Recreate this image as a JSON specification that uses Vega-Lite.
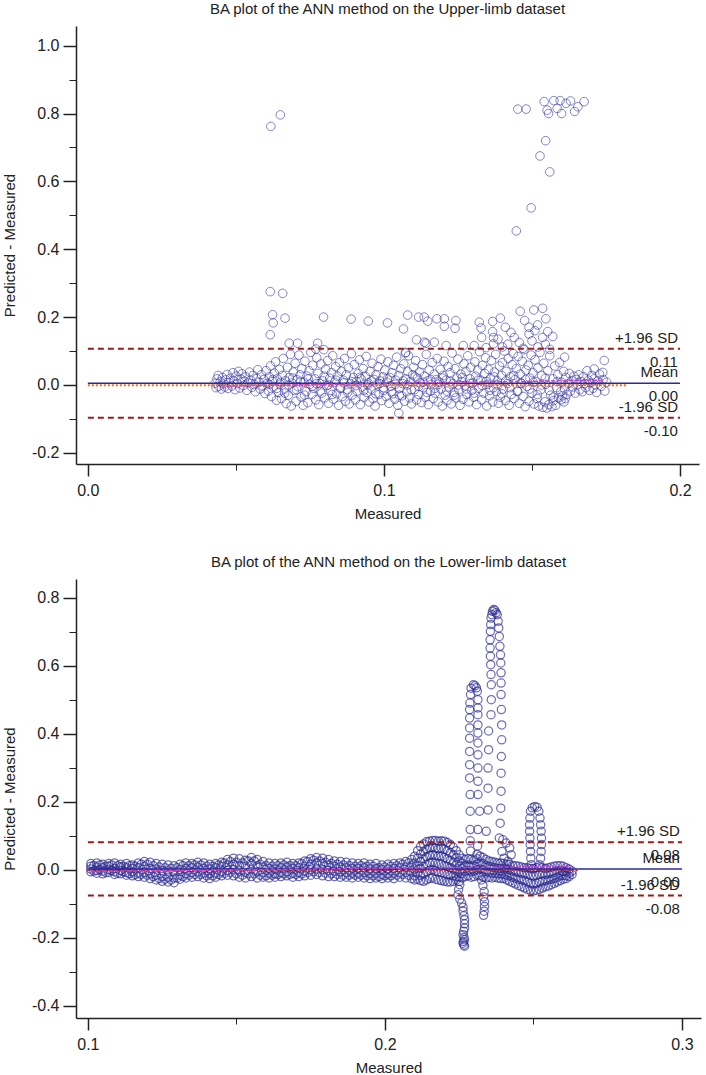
{
  "$schema": "https://vega.github.io/schema/vega-lite/v6.json",
  "description": "Bland-Altman plots of the ANN method, upper-limb and lower-limb datasets.",
  "background": "#ffffff",
  "padding": {"left": 2, "top": 2, "right": 3, "bottom": 0},
  "spacing": 34,
  "config": {
    "font": "Liberation Sans",
    "view": {"stroke": null},
    "title": {"fontSize": 15, "fontWeight": "normal", "color": "#222222", "offset": 9, "anchor": "middle"},
    "axis": {
      "grid": false,
      "domainColor": "#222222",
      "domainWidth": 1.5,
      "tickColor": "#222222",
      "tickWidth": 1.5,
      "labelFontSize": 16,
      "labelColor": "#222222",
      "labelFont": "Liberation Sans",
      "titleFont": "Liberation Sans",
      "titleFontSize": 15,
      "titleFontWeight": "normal",
      "titleColor": "#222222"
    }
  },
  "datasets": {
    "upper": [
      {"m":0.0430,"d":0.005},{"m":0.0433,"d":-0.008},{"m":0.0436,"d":0.018},{"m":0.0440,"d":0.028},{"m":0.0442,"d":-0.004},{"m":0.0447,"d":0.010},{"m":0.0451,"d":-0.012},{"m":0.0455,"d":0.022},{"m":0.0458,"d":0.003},{"m":0.0462,"d":-0.006},{"m":0.0466,"d":0.015},{"m":0.0470,"d":0.031},{"m":0.0473,"d":-0.010},{"m":0.0478,"d":0.006},{"m":0.0482,"d":0.020},{"m":0.0486,"d":-0.003},{"m":0.0490,"d":0.036},{"m":0.0494,"d":0.012},{"m":0.0497,"d":-0.014},{"m":0.0501,"d":0.026},
      {"m":0.0505,"d":0.004},{"m":0.0509,"d":0.040},{"m":0.0513,"d":-0.009},{"m":0.0517,"d":0.017},{"m":0.0521,"d":0.033},{"m":0.0525,"d":-0.002},{"m":0.0529,"d":0.011},{"m":0.0533,"d":0.024},{"m":0.0537,"d":-0.016},{"m":0.0541,"d":0.006},{"m":0.0546,"d":0.038},{"m":0.0550,"d":0.014},{"m":0.0554,"d":-0.007},{"m":0.0558,"d":0.028},{"m":0.0562,"d":0.001},{"m":0.0566,"d":-0.020},{"m":0.0570,"d":0.019},{"m":0.0574,"d":0.045},{"m":0.0578,"d":0.008},{"m":0.0582,"d":-0.012},{"m":0.0586,"d":0.030},{"m":0.0590,"d":-0.003},{"m":0.0594,"d":0.016},{"m":0.0598,"d":-0.025},
      {"m":0.0602,"d":0.042},{"m":0.0606,"d":0.005},{"m":0.0610,"d":-0.018},{"m":0.0613,"d":0.024},{"m":0.0617,"d":0.056},{"m":0.0620,"d":-0.034},{"m":0.0623,"d":0.010},{"m":0.0627,"d":-0.006},{"m":0.0630,"d":0.035},{"m":0.0634,"d":0.068},{"m":0.0637,"d":-0.045},{"m":0.0640,"d":0.018},{"m":0.0644,"d":-0.022},{"m":0.0647,"d":0.046},{"m":0.0650,"d":0.002},{"m":0.0654,"d":-0.040},{"m":0.0657,"d":0.028},{"m":0.0660,"d":0.078},{"m":0.0664,"d":-0.012},{"m":0.0667,"d":0.012},{"m":0.0670,"d":-0.055},{"m":0.0674,"d":0.052},{"m":0.0677,"d":-0.030},{"m":0.0680,"d":0.022},{"m":0.0684,"d":0.090},{"m":0.0687,"d":-0.062},{"m":0.0690,"d":0.006},{"m":0.0694,"d":0.038},{"m":0.0697,"d":-0.016},
      {"m":0.0700,"d":0.064},{"m":0.0703,"d":-0.048},{"m":0.0707,"d":0.015},{"m":0.0710,"d":-0.005},{"m":0.0713,"d":0.088},{"m":0.0717,"d":0.030},{"m":0.0720,"d":-0.035},{"m":0.0723,"d":0.048},{"m":0.0727,"d":-0.060},{"m":0.0730,"d":0.008},{"m":0.0733,"d":0.070},{"m":0.0737,"d":-0.020},{"m":0.0740,"d":0.026},{"m":0.0743,"d":-0.052},{"m":0.0747,"d":0.042},{"m":0.0750,"d":0.002},{"m":0.0753,"d":0.096},{"m":0.0757,"d":-0.028},{"m":0.0760,"d":0.058},{"m":0.0763,"d":-0.010},{"m":0.0767,"d":0.018},{"m":0.0770,"d":-0.044},{"m":0.0773,"d":0.080},{"m":0.0777,"d":0.034},{"m":0.0780,"d":-0.058},{"m":0.0783,"d":0.004},{"m":0.0787,"d":0.062},{"m":0.0790,"d":-0.024},{"m":0.0793,"d":0.012},{"m":0.0797,"d":0.104},
      {"m":0.0800,"d":-0.038},{"m":0.0803,"d":0.046},{"m":0.0807,"d":-0.002},{"m":0.0810,"d":0.072},{"m":0.0813,"d":-0.054},{"m":0.0817,"d":0.020},{"m":0.0820,"d":-0.016},{"m":0.0823,"d":0.036},{"m":0.0827,"d":0.086},{"m":0.0830,"d":-0.042},{"m":0.0833,"d":0.008},{"m":0.0837,"d":0.054},{"m":0.0840,"d":-0.026},{"m":0.0843,"d":0.026},{"m":0.0847,"d":-0.060},{"m":0.0850,"d":0.066},{"m":0.0853,"d":-0.008},{"m":0.0857,"d":0.040},{"m":0.0860,"d":-0.034},{"m":0.0863,"d":0.014},{"m":0.0867,"d":0.078},{"m":0.0870,"d":-0.048},{"m":0.0873,"d":0.030},{"m":0.0877,"d":-0.014},{"m":0.0880,"d":0.050},{"m":0.0883,"d":-0.056},{"m":0.0887,"d":0.004},{"m":0.0890,"d":0.092},{"m":0.0893,"d":-0.030},{"m":0.0897,"d":0.022},
      {"m":0.0900,"d":0.060},{"m":0.0903,"d":-0.044},{"m":0.0907,"d":0.010},{"m":0.0910,"d":-0.018},{"m":0.0913,"d":0.034},{"m":0.0917,"d":0.074},{"m":0.0920,"d":-0.058},{"m":0.0923,"d":0.018},{"m":0.0927,"d":-0.006},{"m":0.0930,"d":0.048},{"m":0.0933,"d":-0.036},{"m":0.0937,"d":0.026},{"m":0.0940,"d":0.084},{"m":0.0943,"d":-0.022},{"m":0.0947,"d":0.006},{"m":0.0950,"d":-0.050},{"m":0.0953,"d":0.040},{"m":0.0957,"d":-0.012},{"m":0.0960,"d":0.064},{"m":0.0963,"d":-0.040},{"m":0.0967,"d":0.016},{"m":0.0970,"d":-0.062},{"m":0.0973,"d":0.030},{"m":0.0977,"d":0.002},{"m":0.0980,"d":0.054},{"m":0.0983,"d":-0.028},{"m":0.0987,"d":0.012},{"m":0.0990,"d":0.076},{"m":0.0993,"d":-0.046},{"m":0.0997,"d":0.024},
      {"m":0.1000,"d":-0.016},{"m":0.1003,"d":0.044},{"m":0.1007,"d":-0.034},{"m":0.1010,"d":0.008},{"m":0.1013,"d":0.068},{"m":0.1017,"d":-0.054},{"m":0.1020,"d":0.022},{"m":0.1023,"d":-0.004},{"m":0.1027,"d":0.036},{"m":0.1030,"d":-0.026},{"m":0.1033,"d":0.058},{"m":0.1037,"d":-0.042},{"m":0.1040,"d":0.014},{"m":0.1043,"d":0.082},{"m":0.1047,"d":-0.060},{"m":0.1050,"d":0.028},{"m":0.1053,"d":-0.010},{"m":0.1057,"d":0.048},{"m":0.1060,"d":-0.032},{"m":0.1063,"d":0.004},{"m":0.1067,"d":0.062},{"m":0.1070,"d":-0.048},{"m":0.1073,"d":0.018},{"m":0.1077,"d":-0.020},{"m":0.1080,"d":0.040},{"m":0.1083,"d":0.086},{"m":0.1087,"d":-0.038},{"m":0.1090,"d":0.010},{"m":0.1093,"d":-0.056},{"m":0.1097,"d":0.030},
      {"m":0.1100,"d":0.052},{"m":0.1103,"d":-0.014},{"m":0.1107,"d":0.072},{"m":0.1110,"d":-0.044},{"m":0.1113,"d":0.020},{"m":0.1117,"d":-0.028},{"m":0.1120,"d":0.038},{"m":0.1123,"d":0.006},{"m":0.1127,"d":-0.052},{"m":0.1130,"d":0.060},{"m":0.1133,"d":-0.008},{"m":0.1137,"d":0.026},{"m":0.1140,"d":-0.036},{"m":0.1143,"d":0.090},{"m":0.1147,"d":0.012},{"m":0.1150,"d":-0.058},{"m":0.1153,"d":0.044},{"m":0.1157,"d":-0.018},{"m":0.1160,"d":0.002},{"m":0.1163,"d":0.066},{"m":0.1167,"d":-0.040},{"m":0.1170,"d":0.032},{"m":0.1173,"d":-0.024},{"m":0.1177,"d":0.016},{"m":0.1180,"d":0.078},{"m":0.1183,"d":-0.050},{"m":0.1187,"d":0.008},{"m":0.1190,"d":0.046},{"m":0.1193,"d":-0.012},{"m":0.1197,"d":-0.062},
      {"m":0.1200,"d":0.028},{"m":0.1203,"d":0.070},{"m":0.1207,"d":-0.030},{"m":0.1210,"d":0.014},{"m":0.1213,"d":-0.046},{"m":0.1217,"d":0.054},{"m":0.1220,"d":-0.006},{"m":0.1223,"d":0.036},{"m":0.1227,"d":-0.056},{"m":0.1230,"d":0.094},{"m":0.1233,"d":0.004},{"m":0.1237,"d":-0.022},{"m":0.1240,"d":0.048},{"m":0.1243,"d":-0.038},{"m":0.1247,"d":0.020},{"m":0.1250,"d":0.076},{"m":0.1253,"d":-0.014},{"m":0.1257,"d":-0.060},{"m":0.1260,"d":0.032},{"m":0.1263,"d":0.010},{"m":0.1267,"d":-0.042},{"m":0.1270,"d":0.062},{"m":0.1273,"d":-0.002},{"m":0.1277,"d":0.040},{"m":0.1280,"d":-0.028},{"m":0.1283,"d":0.086},{"m":0.1287,"d":-0.050},{"m":0.1290,"d":0.018},{"m":0.1293,"d":0.052},{"m":0.1297,"d":-0.016},
      {"m":0.1300,"d":0.006},{"m":0.1303,"d":-0.036},{"m":0.1307,"d":0.068},{"m":0.1310,"d":0.026},{"m":0.1313,"d":-0.058},{"m":0.1317,"d":0.044},{"m":0.1320,"d":-0.010},{"m":0.1323,"d":0.098},{"m":0.1327,"d":0.014},{"m":0.1330,"d":-0.044},{"m":0.1333,"d":0.058},{"m":0.1337,"d":-0.024},{"m":0.1340,"d":0.034},{"m":0.1343,"d":0.080},{"m":0.1347,"d":-0.062},{"m":0.1350,"d":0.002},{"m":0.1353,"d":0.046},{"m":0.1357,"d":-0.032},{"m":0.1360,"d":0.020},{"m":0.1363,"d":0.072},{"m":0.1367,"d":-0.050},{"m":0.1370,"d":-0.008},{"m":0.1373,"d":0.038},{"m":0.1377,"d":0.090},{"m":0.1380,"d":-0.020},{"m":0.1383,"d":0.012},{"m":0.1387,"d":-0.054},{"m":0.1390,"d":0.056},{"m":0.1393,"d":-0.036},{"m":0.1397,"d":0.028},
      {"m":0.1400,"d":0.066},{"m":0.1403,"d":-0.012},{"m":0.1407,"d":0.100},{"m":0.1410,"d":-0.046},{"m":0.1413,"d":0.040},{"m":0.1417,"d":0.004},{"m":0.1420,"d":0.078},{"m":0.1423,"d":-0.060},{"m":0.1427,"d":0.024},{"m":0.1430,"d":-0.028},{"m":0.1433,"d":0.060},{"m":0.1437,"d":0.092},{"m":0.1440,"d":-0.040},{"m":0.1443,"d":0.016},{"m":0.1447,"d":0.048},{"m":0.1450,"d":-0.018},{"m":0.1453,"d":0.084},{"m":0.1457,"d":-0.054},{"m":0.1460,"d":0.032},{"m":0.1463,"d":0.006},{"m":0.1467,"d":0.070},{"m":0.1470,"d":-0.034},{"m":0.1473,"d":0.104},{"m":0.1477,"d":-0.064},{"m":0.1480,"d":0.044},{"m":0.1483,"d":-0.004},{"m":0.1487,"d":0.058},{"m":0.1490,"d":-0.048},{"m":0.1493,"d":0.020},{"m":0.1497,"d":0.088},
      {"m":0.1500,"d":-0.024},{"m":0.1503,"d":0.036},{"m":0.1507,"d":-0.056},{"m":0.1510,"d":0.074},{"m":0.1513,"d":0.010},{"m":0.1517,"d":-0.040},{"m":0.1520,"d":0.050},{"m":0.1523,"d":-0.062},{"m":0.1527,"d":0.096},{"m":0.1530,"d":-0.014},{"m":0.1533,"d":0.028},{"m":0.1537,"d":-0.066},{"m":0.1540,"d":0.064},{"m":0.1543,"d":-0.050},{"m":0.1547,"d":0.002},{"m":0.1550,"d":-0.068},{"m":0.1553,"d":0.042},{"m":0.1557,"d":-0.058},{"m":0.1560,"d":0.086},{"m":0.1563,"d":-0.030},{"m":0.1567,"d":-0.064},{"m":0.1570,"d":0.018},{"m":0.1573,"d":-0.046},{"m":0.1577,"d":0.056},{"m":0.1580,"d":-0.060},{"m":0.1583,"d":-0.008},{"m":0.1587,"d":0.030},{"m":0.1590,"d":-0.038},{"m":0.1593,"d":0.066},{"m":0.1597,"d":-0.020},
      {"m":0.1600,"d":0.008},{"m":0.1603,"d":-0.032},{"m":0.1607,"d":0.040},{"m":0.1610,"d":-0.012},{"m":0.1614,"d":0.022},{"m":0.1618,"d":-0.028},{"m":0.1622,"d":0.004},{"m":0.1626,"d":0.034},{"m":0.1630,"d":-0.018},{"m":0.1634,"d":0.012},{"m":0.1638,"d":-0.006},{"m":0.1642,"d":0.026},{"m":0.1646,"d":-0.024},{"m":0.1650,"d":0.016},{"m":0.1654,"d":0.002},{"m":0.1658,"d":0.030},{"m":0.1662,"d":-0.014},{"m":0.1666,"d":0.010},{"m":0.1670,"d":-0.020},{"m":0.1674,"d":0.024},{"m":0.1678,"d":0.004},{"m":0.1682,"d":-0.008},{"m":0.1686,"d":0.042},{"m":0.1690,"d":0.014},{"m":0.1694,"d":-0.016},{"m":0.1698,"d":0.006},{"m":0.1702,"d":0.028},{"m":0.1706,"d":-0.010},{"m":0.1710,"d":0.018},{"m":0.1714,"d":0.000},{"m":0.1718,"d":-0.022},{"m":0.1722,"d":0.012},{"m":0.1728,"d":0.032},{"m":0.1734,"d":-0.004},{"m":0.1740,"d":0.016},{"m":0.1746,"d":-0.018},{"m":0.1752,"d":0.008},
      {"m":0.0612,"d":0.002},{"m":0.0625,"d":0.016},{"m":0.0638,"d":-0.010},{"m":0.0652,"d":0.008},{"m":0.0665,"d":-0.024},{"m":0.0678,"d":0.000},{"m":0.0692,"d":0.020},{"m":0.0705,"d":-0.014},{"m":0.0718,"d":0.010},{"m":0.0732,"d":-0.030},{"m":0.0745,"d":0.018},{"m":0.0758,"d":-0.004},{"m":0.0772,"d":0.004},{"m":0.0785,"d":-0.018},{"m":0.0798,"d":0.026},{"m":0.0812,"d":0.000},{"m":0.0825,"d":-0.028},{"m":0.0838,"d":0.014},{"m":0.0852,"d":-0.010},{"m":0.0865,"d":0.006},{"m":0.0878,"d":-0.022},{"m":0.0892,"d":0.010},{"m":0.0905,"d":-0.002},{"m":0.0918,"d":0.022},{"m":0.0932,"d":-0.016},{"m":0.0945,"d":0.000},{"m":0.0958,"d":0.012},{"m":0.0972,"d":-0.026},{"m":0.0985,"d":0.004},{"m":0.0998,"d":-0.008},
      {"m":0.1012,"d":0.018},{"m":0.1025,"d":-0.020},{"m":0.1038,"d":0.002},{"m":0.1052,"d":-0.030},{"m":0.1065,"d":0.012},{"m":0.1078,"d":0.000},{"m":0.1092,"d":-0.014},{"m":0.1105,"d":0.024},{"m":0.1118,"d":-0.004},{"m":0.1132,"d":0.008},{"m":0.1145,"d":-0.022},{"m":0.1158,"d":0.016},{"m":0.1172,"d":-0.010},{"m":0.1185,"d":0.002},{"m":0.1198,"d":0.020},{"m":0.1212,"d":-0.018},{"m":0.1225,"d":0.010},{"m":0.1238,"d":-0.030},{"m":0.1252,"d":0.000},{"m":0.1265,"d":0.022},{"m":0.1278,"d":-0.012},{"m":0.1292,"d":0.004},{"m":0.1305,"d":-0.024},{"m":0.1318,"d":0.014},{"m":0.1332,"d":-0.002},{"m":0.1345,"d":0.010},{"m":0.1358,"d":-0.016},{"m":0.1372,"d":0.024},{"m":0.1385,"d":0.000},{"m":0.1398,"d":-0.026},
      {"m":0.1412,"d":0.012},{"m":0.1425,"d":-0.008},{"m":0.1438,"d":0.028},{"m":0.1452,"d":-0.020},{"m":0.1465,"d":0.004},{"m":0.1478,"d":0.016},{"m":0.1492,"d":-0.012},{"m":0.1505,"d":0.008},{"m":0.1518,"d":-0.028},{"m":0.1532,"d":0.000},{"m":0.1545,"d":0.020},{"m":0.1558,"d":-0.016},{"m":0.1572,"d":-0.036},{"m":0.1585,"d":0.010},{"m":0.1598,"d":-0.044},{"m":0.1608,"d":-0.050},{"m":0.1612,"d":-0.040},
      {"m":0.0618,"d":0.762},{"m":0.0650,"d":0.796},
      {"m":0.1452,"d":0.813},{"m":0.1480,"d":0.813},{"m":0.1541,"d":0.835},{"m":0.1551,"d":0.810},{"m":0.1556,"d":0.800},{"m":0.1574,"d":0.838},{"m":0.1585,"d":0.815},{"m":0.1595,"d":0.838},{"m":0.1600,"d":0.800},{"m":0.1615,"d":0.830},{"m":0.1630,"d":0.837},{"m":0.1644,"d":0.806},{"m":0.1655,"d":0.820},{"m":0.1676,"d":0.835},
      {"m":0.1546,"d":0.720},{"m":0.1527,"d":0.675},{"m":0.1560,"d":0.628},{"m":0.1497,"d":0.522},{"m":0.1447,"d":0.454},
      {"m":0.0616,"d":0.275},{"m":0.0658,"d":0.270},{"m":0.0624,"d":0.207},{"m":0.0666,"d":0.197},{"m":0.0626,"d":0.183},{"m":0.0616,"d":0.148},{"m":0.0796,"d":0.200},{"m":0.0889,"d":0.194},{"m":0.0680,"d":0.123},{"m":0.0708,"d":0.123},{"m":0.0776,"d":0.123},{"m":0.0770,"d":0.106},
      {"m":0.0947,"d":0.188},{"m":0.1012,"d":0.183},{"m":0.1080,"d":0.206},{"m":0.1066,"d":0.165},{"m":0.1117,"d":0.200},{"m":0.1136,"d":0.200},{"m":0.1148,"d":0.188},{"m":0.1074,"d":0.096},{"m":0.1110,"d":0.133},{"m":0.1136,"d":0.126},
      {"m":0.1179,"d":0.195},{"m":0.1204,"d":0.195},{"m":0.1204,"d":0.173},{"m":0.1243,"d":0.190},{"m":0.1240,"d":0.167},{"m":0.1322,"d":0.185},{"m":0.1328,"d":0.168},{"m":0.1367,"d":0.187},{"m":0.1393,"d":0.197},{"m":0.1367,"d":0.157},{"m":0.1460,"d":0.217},{"m":0.1506,"d":0.221},{"m":0.1536,"d":0.226},{"m":0.1547,"d":0.195},{"m":0.1519,"d":0.177},{"m":0.1490,"d":0.170},{"m":0.1429,"d":0.155},{"m":0.1370,"d":0.140},{"m":0.1490,"d":0.150},{"m":0.1553,"d":0.157},{"m":0.1570,"d":0.143},{"m":0.1536,"d":0.140},
      {"m":0.1142,"d":0.123},{"m":0.1170,"d":0.126},{"m":0.1210,"d":0.116},{"m":0.1268,"d":0.116},{"m":0.1305,"d":0.116},{"m":0.1370,"d":0.121},{"m":0.1418,"d":0.120},{"m":0.1457,"d":0.125},{"m":0.1072,"d":0.094},{"m":0.1610,"d":0.082},{"m":0.1710,"d":0.047},{"m":0.1744,"d":0.072},{"m":0.1739,"d":0.037},{"m":0.1050,"d":-0.083},
      {"m":0.1330,"d":0.140},{"m":0.1345,"d":0.110},{"m":0.1385,"d":0.135},{"m":0.1400,"d":0.112},{"m":0.1440,"d":0.140},{"m":0.1470,"d":0.108},{"m":0.1500,"d":0.130},{"m":0.1520,"d":0.112},{"m":0.1545,"d":0.120},{"m":0.1560,"d":0.105},{"m":0.1410,"d":0.170},{"m":0.1475,"d":0.190},{"m":0.1510,"d":0.160}
    ],
    "lower": [
      {"m":0.101,"d":0.018},{"m":0.101,"d":0.010},{"m":0.101,"d":0.002},{"m":0.101,"d":-0.006},
      {"m":0.103,"d":0.020},{"m":0.103,"d":0.008},{"m":0.103,"d":-0.002},{"m":0.103,"d":-0.010},
      {"m":0.105,"d":0.016},{"m":0.105,"d":0.006},{"m":0.105,"d":-0.004},{"m":0.105,"d":-0.012},
      {"m":0.107,"d":0.018},{"m":0.107,"d":0.010},{"m":0.107,"d":0.000},{"m":0.107,"d":-0.008},
      {"m":0.109,"d":0.020},{"m":0.109,"d":0.004},{"m":0.109,"d":-0.006},{"m":0.109,"d":-0.014},
      {"m":0.111,"d":0.016},{"m":0.111,"d":0.008},{"m":0.111,"d":-0.002},{"m":0.111,"d":-0.012},
      {"m":0.113,"d":0.018},{"m":0.113,"d":0.006},{"m":0.113,"d":-0.008},{"m":0.113,"d":-0.016},
      {"m":0.115,"d":0.014},{"m":0.115,"d":0.004},{"m":0.115,"d":-0.006},{"m":0.115,"d":-0.018},
      {"m":0.117,"d":0.020},{"m":0.117,"d":0.006},{"m":0.117,"d":-0.010},{"m":0.117,"d":-0.020},
      {"m":0.119,"d":0.024},{"m":0.119,"d":0.010},{"m":0.119,"d":-0.008},{"m":0.119,"d":-0.022},
      {"m":0.121,"d":0.022},{"m":0.121,"d":0.004},{"m":0.121,"d":-0.012},{"m":0.121,"d":-0.026},
      {"m":0.123,"d":0.018},{"m":0.123,"d":0.002},{"m":0.123,"d":-0.016},{"m":0.123,"d":-0.030},
      {"m":0.125,"d":0.016},{"m":0.125,"d":-0.002},{"m":0.125,"d":-0.020},{"m":0.125,"d":-0.034},
      {"m":0.127,"d":0.014},{"m":0.127,"d":-0.004},{"m":0.127,"d":-0.022},{"m":0.127,"d":-0.036},
      {"m":0.129,"d":0.012},{"m":0.129,"d":-0.006},{"m":0.129,"d":-0.024},{"m":0.129,"d":-0.038},
      {"m":0.131,"d":0.016},{"m":0.131,"d":0.000},{"m":0.131,"d":-0.016},{"m":0.131,"d":-0.028},
      {"m":0.133,"d":0.020},{"m":0.133,"d":0.004},{"m":0.133,"d":-0.012},{"m":0.133,"d":-0.024},
      {"m":0.135,"d":0.018},{"m":0.135,"d":0.006},{"m":0.135,"d":-0.008},{"m":0.135,"d":-0.022},
      {"m":0.137,"d":0.022},{"m":0.137,"d":0.008},{"m":0.137,"d":-0.006},{"m":0.137,"d":-0.020},
      {"m":0.139,"d":0.020},{"m":0.139,"d":0.004},{"m":0.139,"d":-0.010},{"m":0.139,"d":-0.024},
      {"m":0.141,"d":0.016},{"m":0.141,"d":0.002},{"m":0.141,"d":-0.012},{"m":0.141,"d":-0.026},
      {"m":0.143,"d":0.018},{"m":0.143,"d":0.006},{"m":0.143,"d":-0.010},{"m":0.143,"d":-0.022},
      {"m":0.145,"d":0.022},{"m":0.145,"d":0.010},{"m":0.145,"d":-0.006},{"m":0.145,"d":-0.018},
      {"m":0.147,"d":0.030},{"m":0.147,"d":0.014},{"m":0.147,"d":-0.002},{"m":0.147,"d":-0.016},
      {"m":0.149,"d":0.034},{"m":0.149,"d":0.016},{"m":0.149,"d":0.000},{"m":0.149,"d":-0.018},
      {"m":0.151,"d":0.032},{"m":0.151,"d":0.012},{"m":0.151,"d":-0.004},{"m":0.151,"d":-0.022},
      {"m":0.153,"d":0.028},{"m":0.153,"d":0.010},{"m":0.153,"d":-0.008},{"m":0.153,"d":-0.024},
      {"m":0.155,"d":0.036},{"m":0.155,"d":0.018},{"m":0.155,"d":0.000},{"m":0.155,"d":-0.020},
      {"m":0.157,"d":0.030},{"m":0.157,"d":0.012},{"m":0.157,"d":-0.006},{"m":0.157,"d":-0.024},
      {"m":0.159,"d":0.024},{"m":0.159,"d":0.008},{"m":0.159,"d":-0.008},{"m":0.159,"d":-0.022},
      {"m":0.161,"d":0.020},{"m":0.161,"d":0.004},{"m":0.161,"d":-0.010},{"m":0.161,"d":-0.024},
      {"m":0.163,"d":0.018},{"m":0.163,"d":0.002},{"m":0.163,"d":-0.012},{"m":0.163,"d":-0.022},
      {"m":0.165,"d":0.020},{"m":0.165,"d":0.006},{"m":0.165,"d":-0.008},{"m":0.165,"d":-0.020},
      {"m":0.167,"d":0.022},{"m":0.167,"d":0.008},{"m":0.167,"d":-0.006},{"m":0.167,"d":-0.018},
      {"m":0.169,"d":0.018},{"m":0.169,"d":0.004},{"m":0.169,"d":-0.010},{"m":0.169,"d":-0.022},
      {"m":0.171,"d":0.020},{"m":0.171,"d":0.006},{"m":0.171,"d":-0.008},{"m":0.171,"d":-0.020},
      {"m":0.173,"d":0.026},{"m":0.173,"d":0.010},{"m":0.173,"d":-0.004},{"m":0.173,"d":-0.018},
      {"m":0.175,"d":0.032},{"m":0.175,"d":0.016},{"m":0.175,"d":0.000},{"m":0.175,"d":-0.016},
      {"m":0.177,"d":0.036},{"m":0.177,"d":0.020},{"m":0.177,"d":0.002},{"m":0.177,"d":-0.014},
      {"m":0.179,"d":0.034},{"m":0.179,"d":0.018},{"m":0.179,"d":0.000},{"m":0.179,"d":-0.018},
      {"m":0.181,"d":0.030},{"m":0.181,"d":0.014},{"m":0.181,"d":-0.002},{"m":0.181,"d":-0.020},
      {"m":0.183,"d":0.026},{"m":0.183,"d":0.010},{"m":0.183,"d":-0.004},{"m":0.183,"d":-0.020},
      {"m":0.185,"d":0.024},{"m":0.185,"d":0.008},{"m":0.185,"d":-0.006},{"m":0.185,"d":-0.022},
      {"m":0.187,"d":0.022},{"m":0.187,"d":0.006},{"m":0.187,"d":-0.008},{"m":0.187,"d":-0.022},
      {"m":0.189,"d":0.020},{"m":0.189,"d":0.004},{"m":0.189,"d":-0.010},{"m":0.189,"d":-0.024},
      {"m":0.191,"d":0.018},{"m":0.191,"d":0.004},{"m":0.191,"d":-0.010},{"m":0.191,"d":-0.022},
      {"m":0.193,"d":0.020},{"m":0.193,"d":0.006},{"m":0.193,"d":-0.008},{"m":0.193,"d":-0.024},
      {"m":0.195,"d":0.016},{"m":0.195,"d":0.002},{"m":0.195,"d":-0.012},{"m":0.195,"d":-0.026},
      {"m":0.197,"d":0.018},{"m":0.197,"d":0.004},{"m":0.197,"d":-0.010},{"m":0.197,"d":-0.024},
      {"m":0.199,"d":0.014},{"m":0.199,"d":0.000},{"m":0.199,"d":-0.014},{"m":0.199,"d":-0.026},
      {"m":0.201,"d":0.016},{"m":0.201,"d":0.002},{"m":0.201,"d":-0.012},{"m":0.201,"d":-0.024},
      {"m":0.203,"d":0.018},{"m":0.203,"d":0.004},{"m":0.203,"d":-0.010},{"m":0.203,"d":-0.026},
      {"m":0.205,"d":0.020},{"m":0.205,"d":0.006},{"m":0.205,"d":-0.008},{"m":0.205,"d":-0.022},
      {"m":0.207,"d":0.024},{"m":0.207,"d":0.008},{"m":0.207,"d":-0.008},{"m":0.207,"d":-0.024},
      {"m":0.209,"d":0.030},{"m":0.209,"d":0.012},{"m":0.209,"d":-0.006},{"m":0.209,"d":-0.026},
      {"m":0.102,"d":0.012},{"m":0.102,"d":-0.004},{"m":0.104,"d":0.014},{"m":0.104,"d":0.000},{"m":0.106,"d":0.010},{"m":0.106,"d":-0.008},{"m":0.108,"d":0.014},{"m":0.108,"d":-0.002},{"m":0.110,"d":0.012},{"m":0.110,"d":-0.010},
      {"m":0.112,"d":0.010},{"m":0.112,"d":-0.006},{"m":0.114,"d":0.012},{"m":0.114,"d":-0.012},{"m":0.116,"d":0.010},{"m":0.116,"d":-0.014},{"m":0.118,"d":0.016},{"m":0.118,"d":-0.014},{"m":0.120,"d":0.016},{"m":0.120,"d":-0.016},
      {"m":0.122,"d":0.012},{"m":0.122,"d":-0.020},{"m":0.124,"d":0.008},{"m":0.124,"d":-0.026},{"m":0.126,"d":0.006},{"m":0.126,"d":-0.028},{"m":0.128,"d":0.004},{"m":0.128,"d":-0.030},{"m":0.130,"d":0.006},{"m":0.130,"d":-0.024},
      {"m":0.132,"d":0.012},{"m":0.132,"d":-0.020},{"m":0.134,"d":0.012},{"m":0.134,"d":-0.016},{"m":0.136,"d":0.014},{"m":0.136,"d":-0.014},{"m":0.138,"d":0.014},{"m":0.138,"d":-0.014},{"m":0.140,"d":0.010},{"m":0.140,"d":-0.018},
      {"m":0.142,"d":0.010},{"m":0.142,"d":-0.018},{"m":0.144,"d":0.014},{"m":0.144,"d":-0.014},{"m":0.146,"d":0.020},{"m":0.146,"d":-0.010},{"m":0.148,"d":0.024},{"m":0.148,"d":-0.008},{"m":0.150,"d":0.022},{"m":0.150,"d":-0.012},
      {"m":0.152,"d":0.020},{"m":0.152,"d":-0.016},{"m":0.154,"d":0.026},{"m":0.154,"d":-0.012},{"m":0.156,"d":0.026},{"m":0.156,"d":-0.012},{"m":0.158,"d":0.016},{"m":0.158,"d":-0.016},{"m":0.160,"d":0.012},{"m":0.160,"d":-0.018},
      {"m":0.162,"d":0.010},{"m":0.162,"d":-0.016},{"m":0.164,"d":0.012},{"m":0.164,"d":-0.014},{"m":0.166,"d":0.014},{"m":0.166,"d":-0.012},{"m":0.168,"d":0.012},{"m":0.168,"d":-0.014},{"m":0.170,"d":0.012},{"m":0.170,"d":-0.014},
      {"m":0.172,"d":0.018},{"m":0.172,"d":-0.012},{"m":0.174,"d":0.024},{"m":0.174,"d":-0.008},{"m":0.176,"d":0.028},{"m":0.176,"d":-0.006},{"m":0.178,"d":0.026},{"m":0.178,"d":-0.008},{"m":0.180,"d":0.022},{"m":0.180,"d":-0.010},
      {"m":0.182,"d":0.018},{"m":0.182,"d":-0.012},{"m":0.184,"d":0.016},{"m":0.184,"d":-0.014},{"m":0.186,"d":0.014},{"m":0.186,"d":-0.016},{"m":0.188,"d":0.012},{"m":0.188,"d":-0.016},{"m":0.190,"d":0.010},{"m":0.190,"d":-0.016},
      {"m":0.192,"d":0.012},{"m":0.192,"d":-0.016},{"m":0.194,"d":0.010},{"m":0.194,"d":-0.018},{"m":0.196,"d":0.010},{"m":0.196,"d":-0.018},{"m":0.198,"d":0.006},{"m":0.198,"d":-0.020},{"m":0.200,"d":0.008},{"m":0.200,"d":-0.018},
      {"m":0.202,"d":0.010},{"m":0.202,"d":-0.018},{"m":0.204,"d":0.012},{"m":0.204,"d":-0.016},{"m":0.206,"d":0.016},{"m":0.206,"d":-0.014},{"m":0.208,"d":0.020},{"m":0.208,"d":-0.016},
      {"m":0.210,"d":0.040},{"m":0.210,"d":0.020},{"m":0.210,"d":0.002},{"m":0.210,"d":-0.018},{"m":0.210,"d":-0.030},
      {"m":0.211,"d":0.056},{"m":0.211,"d":0.034},{"m":0.211,"d":0.012},{"m":0.211,"d":-0.010},{"m":0.211,"d":-0.028},
      {"m":0.212,"d":0.068},{"m":0.212,"d":0.046},{"m":0.212,"d":0.024},{"m":0.212,"d":0.004},{"m":0.212,"d":-0.016},{"m":0.212,"d":-0.032},
      {"m":0.213,"d":0.076},{"m":0.213,"d":0.054},{"m":0.213,"d":0.032},{"m":0.213,"d":0.010},{"m":0.213,"d":-0.012},{"m":0.213,"d":-0.034},
      {"m":0.214,"d":0.082},{"m":0.214,"d":0.060},{"m":0.214,"d":0.038},{"m":0.214,"d":0.016},{"m":0.214,"d":-0.006},{"m":0.214,"d":-0.030},
      {"m":0.215,"d":0.084},{"m":0.215,"d":0.064},{"m":0.215,"d":0.042},{"m":0.215,"d":0.020},{"m":0.215,"d":-0.002},{"m":0.215,"d":-0.026},
      {"m":0.216,"d":0.086},{"m":0.216,"d":0.066},{"m":0.216,"d":0.044},{"m":0.216,"d":0.022},{"m":0.216,"d":0.000},{"m":0.216,"d":-0.024},
      {"m":0.217,"d":0.086},{"m":0.217,"d":0.064},{"m":0.217,"d":0.042},{"m":0.217,"d":0.020},{"m":0.217,"d":-0.004},{"m":0.217,"d":-0.028},
      {"m":0.218,"d":0.084},{"m":0.218,"d":0.062},{"m":0.218,"d":0.040},{"m":0.218,"d":0.018},{"m":0.218,"d":-0.006},{"m":0.218,"d":-0.030},
      {"m":0.219,"d":0.085},{"m":0.219,"d":0.064},{"m":0.219,"d":0.040},{"m":0.219,"d":0.016},{"m":0.219,"d":-0.008},{"m":0.219,"d":-0.032},
      {"m":0.220,"d":0.084},{"m":0.220,"d":0.060},{"m":0.220,"d":0.036},{"m":0.220,"d":0.012},{"m":0.220,"d":-0.010},{"m":0.220,"d":-0.034},
      {"m":0.221,"d":0.080},{"m":0.221,"d":0.056},{"m":0.221,"d":0.032},{"m":0.221,"d":0.010},{"m":0.221,"d":-0.014},{"m":0.221,"d":-0.036},
      {"m":0.222,"d":0.074},{"m":0.222,"d":0.050},{"m":0.222,"d":0.028},{"m":0.222,"d":0.006},{"m":0.222,"d":-0.016},{"m":0.222,"d":-0.036},
      {"m":0.223,"d":0.066},{"m":0.223,"d":0.044},{"m":0.223,"d":0.022},{"m":0.223,"d":0.002},{"m":0.223,"d":-0.018},{"m":0.223,"d":-0.034},
      {"m":0.224,"d":0.056},{"m":0.224,"d":0.036},{"m":0.224,"d":0.016},{"m":0.224,"d":-0.002},{"m":0.224,"d":-0.020},{"m":0.224,"d":-0.030},
      {"m":0.225,"d":0.044},{"m":0.225,"d":0.026},{"m":0.225,"d":0.010},{"m":0.225,"d":-0.006},{"m":0.225,"d":-0.022},
      {"m":0.226,"d":0.034},{"m":0.226,"d":0.018},{"m":0.226,"d":0.004},{"m":0.226,"d":-0.010},{"m":0.226,"d":-0.024},
      {"m":0.227,"d":0.030},{"m":0.227,"d":0.012},{"m":0.227,"d":-0.004},{"m":0.227,"d":-0.020},
      {"m":0.228,"d":0.032},{"m":0.228,"d":0.014},{"m":0.228,"d":-0.002},{"m":0.228,"d":-0.018},
      {"m":0.229,"d":0.030},{"m":0.229,"d":0.010},{"m":0.229,"d":-0.006},{"m":0.229,"d":-0.022},
      {"m":0.230,"d":0.028},{"m":0.230,"d":0.012},{"m":0.230,"d":-0.004},{"m":0.230,"d":-0.020},
      {"m":0.231,"d":0.032},{"m":0.231,"d":0.016},{"m":0.231,"d":0.000},{"m":0.231,"d":-0.016},
      {"m":0.232,"d":0.040},{"m":0.232,"d":0.020},{"m":0.232,"d":0.002},{"m":0.232,"d":-0.018},
      {"m":0.233,"d":0.036},{"m":0.233,"d":0.018},{"m":0.233,"d":0.000},{"m":0.233,"d":-0.020},
      {"m":0.234,"d":0.030},{"m":0.234,"d":0.012},{"m":0.234,"d":-0.006},{"m":0.234,"d":-0.024},
      {"m":0.235,"d":0.026},{"m":0.235,"d":0.010},{"m":0.235,"d":-0.008},{"m":0.235,"d":-0.022},
      {"m":0.236,"d":0.024},{"m":0.236,"d":0.008},{"m":0.236,"d":-0.010},{"m":0.236,"d":-0.024},
      {"m":0.237,"d":0.022},{"m":0.237,"d":0.006},{"m":0.237,"d":-0.010},{"m":0.237,"d":-0.022},
      {"m":0.238,"d":0.020},{"m":0.238,"d":0.004},{"m":0.238,"d":-0.012},{"m":0.238,"d":-0.024},
      {"m":0.239,"d":0.020},{"m":0.239,"d":0.004},{"m":0.239,"d":-0.012},{"m":0.239,"d":-0.026},
      {"m":0.240,"d":0.018},{"m":0.240,"d":0.002},{"m":0.240,"d":-0.014},{"m":0.240,"d":-0.026},
      {"m":0.241,"d":0.016},{"m":0.241,"d":0.000},{"m":0.241,"d":-0.016},{"m":0.241,"d":-0.030},
      {"m":0.242,"d":0.016},{"m":0.242,"d":0.000},{"m":0.242,"d":-0.018},{"m":0.242,"d":-0.034},
      {"m":0.243,"d":0.012},{"m":0.243,"d":-0.004},{"m":0.243,"d":-0.022},{"m":0.243,"d":-0.038},
      {"m":0.244,"d":0.012},{"m":0.244,"d":-0.006},{"m":0.244,"d":-0.024},{"m":0.244,"d":-0.042},
      {"m":0.245,"d":0.010},{"m":0.245,"d":-0.008},{"m":0.245,"d":-0.028},{"m":0.245,"d":-0.046},
      {"m":0.246,"d":0.008},{"m":0.246,"d":-0.010},{"m":0.246,"d":-0.030},{"m":0.246,"d":-0.050},
      {"m":0.247,"d":0.006},{"m":0.247,"d":-0.012},{"m":0.247,"d":-0.032},{"m":0.247,"d":-0.054},
      {"m":0.248,"d":0.006},{"m":0.248,"d":-0.014},{"m":0.248,"d":-0.036},{"m":0.248,"d":-0.058},
      {"m":0.249,"d":0.004},{"m":0.249,"d":-0.016},{"m":0.249,"d":-0.040},{"m":0.249,"d":-0.060},
      {"m":0.250,"d":0.004},{"m":0.250,"d":-0.018},{"m":0.250,"d":-0.042},{"m":0.250,"d":-0.062},
      {"m":0.251,"d":0.006},{"m":0.251,"d":-0.016},{"m":0.251,"d":-0.040},{"m":0.251,"d":-0.060},
      {"m":0.252,"d":0.008},{"m":0.252,"d":-0.014},{"m":0.252,"d":-0.036},{"m":0.252,"d":-0.058},
      {"m":0.253,"d":0.006},{"m":0.253,"d":-0.012},{"m":0.253,"d":-0.034},{"m":0.253,"d":-0.054},
      {"m":0.254,"d":0.004},{"m":0.254,"d":-0.014},{"m":0.254,"d":-0.032},{"m":0.254,"d":-0.050},
      {"m":0.255,"d":0.006},{"m":0.255,"d":-0.012},{"m":0.255,"d":-0.030},{"m":0.255,"d":-0.048},
      {"m":0.256,"d":0.008},{"m":0.256,"d":-0.010},{"m":0.256,"d":-0.028},{"m":0.256,"d":-0.044},
      {"m":0.257,"d":0.010},{"m":0.257,"d":-0.008},{"m":0.257,"d":-0.026},{"m":0.257,"d":-0.040},
      {"m":0.258,"d":0.012},{"m":0.258,"d":-0.004},{"m":0.258,"d":-0.022},{"m":0.258,"d":-0.036},
      {"m":0.259,"d":0.012},{"m":0.259,"d":-0.002},{"m":0.259,"d":-0.018},{"m":0.259,"d":-0.032},
      {"m":0.260,"d":0.010},{"m":0.260,"d":-0.004},{"m":0.260,"d":-0.016},{"m":0.260,"d":-0.028},
      {"m":0.261,"d":0.006},{"m":0.261,"d":-0.006},{"m":0.261,"d":-0.018},{"m":0.261,"d":-0.026},
      {"m":0.262,"d":0.002},{"m":0.262,"d":-0.010},{"m":0.262,"d":-0.020},
      {"m":0.263,"d":-0.004},{"m":0.263,"d":-0.014},
      {"m":0.2250,"d":-0.034},{"m":0.2252,"d":-0.044},{"m":0.2248,"d":-0.058},{"m":0.2246,"d":-0.0735},{"m":0.2252,"d":-0.086},{"m":0.2258,"d":-0.098},{"m":0.2263,"d":-0.110},{"m":0.2263,"d":-0.122},{"m":0.2266,"d":-0.135},{"m":0.2268,"d":-0.147},{"m":0.2268,"d":-0.159},{"m":0.2268,"d":-0.171},{"m":0.2265,"d":-0.181},{"m":0.2263,"d":-0.191},{"m":0.2266,"d":-0.199},{"m":0.2268,"d":-0.206},{"m":0.2264,"d":-0.211},{"m":0.2263,"d":-0.216},{"m":0.2266,"d":-0.221},{"m":0.2268,"d":-0.225},
      {"m":0.2290,"d":0.534},{"m":0.2288,"d":0.515},{"m":0.2286,"d":0.490},{"m":0.2285,"d":0.471},{"m":0.2285,"d":0.446},{"m":0.2285,"d":0.417},{"m":0.2285,"d":0.387},{"m":0.2285,"d":0.348},{"m":0.2285,"d":0.309},{"m":0.2285,"d":0.270},{"m":0.2287,"d":0.221},{"m":0.2287,"d":0.172},{"m":0.2287,"d":0.118},
      {"m":0.2298,"d":0.544},{"m":0.2303,"d":0.541},{"m":0.2308,"d":0.535},
      {"m":0.2311,"d":0.525},{"m":0.2313,"d":0.500},{"m":0.2313,"d":0.476},{"m":0.2313,"d":0.456},{"m":0.2313,"d":0.426},{"m":0.2313,"d":0.402},{"m":0.2313,"d":0.373},{"m":0.2313,"d":0.338},{"m":0.2313,"d":0.299},{"m":0.2313,"d":0.260},{"m":0.2313,"d":0.221},{"m":0.2319,"d":0.172},{"m":0.2313,"d":0.118},
      {"m":0.2287,"d":0.085},{"m":0.2312,"d":0.070},{"m":0.2288,"d":0.055},{"m":0.2310,"d":0.045},
      {"m":0.2349,"d":0.408},{"m":0.2349,"d":0.353},{"m":0.2347,"d":0.299},{"m":0.2347,"d":0.240},{"m":0.2347,"d":0.176},{"m":0.2341,"d":0.113},
      {"m":0.2362,"d":0.760},{"m":0.2366,"d":0.765},{"m":0.2370,"d":0.763},{"m":0.2360,"d":0.750},{"m":0.2374,"d":0.756},
      {"m":0.2357,"d":0.740},{"m":0.2356,"d":0.721},{"m":0.2355,"d":0.701},{"m":0.2354,"d":0.676},{"m":0.2354,"d":0.652},{"m":0.2355,"d":0.628},{"m":0.2356,"d":0.603},{"m":0.2357,"d":0.574},{"m":0.2358,"d":0.544},{"m":0.2358,"d":0.500},{"m":0.2357,"d":0.456},
      {"m":0.2378,"d":0.750},{"m":0.2381,"d":0.731},{"m":0.2383,"d":0.711},{"m":0.2385,"d":0.686},{"m":0.2387,"d":0.657},{"m":0.2389,"d":0.632},{"m":0.2390,"d":0.608},{"m":0.2391,"d":0.579},{"m":0.2391,"d":0.549},{"m":0.2391,"d":0.515},{"m":0.2392,"d":0.471},{"m":0.2393,"d":0.426},{"m":0.2393,"d":0.382},{"m":0.2392,"d":0.333},{"m":0.2391,"d":0.284},{"m":0.2391,"d":0.231},{"m":0.2390,"d":0.181},{"m":0.2388,"d":0.137},{"m":0.2385,"d":0.093},
      {"m":0.2325,"d":-0.030},{"m":0.2330,"d":-0.046},{"m":0.2334,"d":-0.064},{"m":0.2332,"d":-0.080},{"m":0.2335,"d":-0.094},{"m":0.2335,"d":-0.108},{"m":0.2334,"d":-0.122},{"m":0.2332,"d":-0.134},
      {"m":0.2397,"d":0.088},{"m":0.2408,"d":0.0785},{"m":0.2420,"d":0.064},{"m":0.2425,"d":0.044},{"m":0.2414,"d":0.025},{"m":0.2403,"d":0.005},{"m":0.2394,"d":0.054},{"m":0.2401,"d":0.034},
      {"m":0.2490,"d":0.172},{"m":0.2488,"d":0.152},{"m":0.2487,"d":0.132},{"m":0.2487,"d":0.113},{"m":0.2488,"d":0.093},{"m":0.2489,"d":0.074},{"m":0.2490,"d":0.054},{"m":0.2491,"d":0.034},{"m":0.2492,"d":0.015},
      {"m":0.2496,"d":0.182},{"m":0.2504,"d":0.186},{"m":0.2512,"d":0.184},
      {"m":0.2518,"d":0.172},{"m":0.2522,"d":0.152},{"m":0.2524,"d":0.132},{"m":0.2526,"d":0.113},{"m":0.2527,"d":0.093},{"m":0.2527,"d":0.074},{"m":0.2526,"d":0.054},{"m":0.2524,"d":0.034},{"m":0.2520,"d":0.015}
    ],
    "upperRef": [
      {"v":0.107,"top":"+1.96 SD","bot":"0.11","kind":"sd"},
      {"v":0.005,"top":"Mean","bot":"0.00","kind":"mean"},
      {"v":-0.097,"top":"-1.96 SD","bot":"-0.10","kind":"sd"}
    ],
    "lowerRef": [
      {"v":0.081,"top":"+1.96 SD","bot":"0.08","kind":"sd"},
      {"v":0.002,"top":"Mean","bot":"0.00","kind":"mean"},
      {"v":-0.076,"top":"-1.96 SD","bot":"-0.08","kind":"sd"}
    ],
    "upperFit": [
      {"g":"dot","m":0.0,"d":-0.001},{"g":"dot","m":0.182,"d":-0.001},
      {"g":"dash","m":0.045,"d":-0.003},{"g":"dash","m":0.174,"d":0.014}
    ],
    "lowerFit": [
      {"g":"dot","m":0.1,"d":-0.002},{"g":"dot","m":0.265,"d":-0.002},
      {"g":"dash","m":0.101,"d":-0.005},{"g":"dash","m":0.262,"d":0.010}
    ]
  },
  "vconcat": [
    {
      "title": {"text": "BA plot of the ANN method on the Upper-limb dataset"},
      "width": 623,
      "height": 438,
      "layer": [
        {
          "data": {"name": "upper"},
          "mark": {"type": "point", "shape": "circle", "filled": false, "size": 74, "stroke": "#3232a2", "strokeWidth": 1, "strokeOpacity": 0.85},
          "encoding": {
            "x": {"field": "m", "type": "quantitative", "scale": {"domain": [-0.004, 0.2064], "nice": false, "zero": false},
                  "axis": {"values": [0, 0.1, 0.2], "format": ".1f", "title": "Measured", "tickSize": 12, "labelPadding": 6, "titlePadding": 8}},
            "y": {"field": "d", "type": "quantitative", "scale": {"domain": [-0.233, 1.058], "nice": false, "zero": false},
                  "axis": {"values": [-0.2, 0, 0.2, 0.4, 0.6, 0.8, 1.0], "format": ".1f", "labelExpr": "replace(datum.label, '\u2212', '-')", "title": "Predicted - Measured", "tickSize": 13, "labelPadding": 4, "titlePadding": 14}}
          }
        },
        {
          "data": {"name": "upperRef"},
          "transform": [{"filter": "datum.kind == 'sd'"}],
          "mark": {"type": "rule", "stroke": "#9b1b1b", "strokeWidth": 2, "strokeDash": [6, 4]},
          "encoding": {
            "x": {"datum": 0, "type": "quantitative", "scale": {"domain": [-0.004, 0.2064], "nice": false, "zero": false},
                  "axis": {"values": [0.05, 0.15], "labels": false, "domain": false, "tickSize": 6, "tickWidth": 1, "title": null, "orient": "bottom"}},
            "x2": {"datum": 0.2},
            "y": {"field": "v", "type": "quantitative", "scale": {"domain": [-0.233, 1.058], "nice": false, "zero": false},
                  "axis": {"values": [-0.1, 0.1, 0.3, 0.5, 0.7, 0.9], "labels": false, "domain": false, "tickSize": 7, "tickWidth": 1, "title": null, "orient": "left"}}
          }
        },
        {
          "data": {"name": "upperRef"},
          "transform": [{"filter": "datum.kind == 'mean'"}],
          "mark": {"type": "rule", "stroke": "#2a2aa0", "strokeWidth": 1.5},
          "encoding": {
            "x": {"datum": 0, "type": "quantitative", "axis": null},
            "x2": {"datum": 0.2},
            "y": {"field": "v", "type": "quantitative", "axis": null}
          }
        },
        {
          "data": {"name": "upperFit"},
          "transform": [{"filter": "datum.g == 'dot'"}],
          "mark": {"type": "line", "stroke": "#ff6a00", "strokeWidth": 2, "strokeDash": [2, 2]},
          "encoding": {
            "x": {"field": "m", "type": "quantitative", "axis": null},
            "y": {"field": "d", "type": "quantitative", "axis": null}
          }
        },
        {
          "data": {"name": "upperFit"},
          "transform": [{"filter": "datum.g == 'dash'"}],
          "mark": {"type": "line", "stroke": "#d040c8", "strokeWidth": 1.5, "strokeDash": [4, 2]},
          "encoding": {
            "x": {"field": "m", "type": "quantitative", "axis": null},
            "y": {"field": "d", "type": "quantitative", "axis": null}
          }
        },
        {
          "data": {"name": "upperRef"},
          "mark": {"type": "text", "align": "right", "baseline": "middle", "dy": -11, "fontSize": 15, "color": "#222222"},
          "encoding": {
            "x": {"datum": 0.1993, "type": "quantitative", "axis": null},
            "y": {"field": "v", "type": "quantitative", "axis": null},
            "text": {"field": "top"}
          }
        },
        {
          "data": {"name": "upperRef"},
          "mark": {"type": "text", "align": "right", "baseline": "middle", "dy": 13, "fontSize": 15, "color": "#222222"},
          "encoding": {
            "x": {"datum": 0.1993, "type": "quantitative", "axis": null},
            "y": {"field": "v", "type": "quantitative", "axis": null},
            "text": {"field": "bot"}
          }
        }
      ],
      "resolve": {"axis": {"x": "independent", "y": "independent"}}
    },
    {
      "title": {"text": "BA plot of the ANN method on the Lower-limb dataset"},
      "width": 625,
      "height": 439,
      "layer": [
        {
          "data": {"name": "lower"},
          "mark": {"type": "point", "shape": "circle", "filled": false, "size": 68, "stroke": "#29298f", "strokeWidth": 1.25, "strokeOpacity": 0.95},
          "encoding": {
            "x": {"field": "m", "type": "quantitative", "scale": {"domain": [0.096, 0.3064], "nice": false, "zero": false},
                  "axis": {"values": [0.1, 0.2, 0.3], "format": ".1f", "title": "Measured", "tickSize": 12, "labelPadding": 6, "titlePadding": 8}},
            "y": {"field": "d", "type": "quantitative", "scale": {"domain": [-0.436, 0.855], "nice": false, "zero": false},
                  "axis": {"values": [-0.4, -0.2, 0, 0.2, 0.4, 0.6, 0.8], "format": ".1f", "labelExpr": "replace(datum.label, '\u2212', '-')", "title": "Predicted - Measured", "tickSize": 13, "labelPadding": 4, "titlePadding": 14}}
          }
        },
        {
          "data": {"name": "lowerRef"},
          "transform": [{"filter": "datum.kind == 'sd'"}],
          "mark": {"type": "rule", "stroke": "#9b1b1b", "strokeWidth": 2, "strokeDash": [6, 4]},
          "encoding": {
            "x": {"datum": 0.1, "type": "quantitative", "scale": {"domain": [0.096, 0.3064], "nice": false, "zero": false},
                  "axis": {"values": [0.15, 0.25], "labels": false, "domain": false, "tickSize": 6, "tickWidth": 1, "title": null, "orient": "bottom"}},
            "x2": {"datum": 0.3},
            "y": {"field": "v", "type": "quantitative", "scale": {"domain": [-0.436, 0.855], "nice": false, "zero": false},
                  "axis": {"values": [-0.3, -0.1, 0.1, 0.3, 0.5, 0.7], "labels": false, "domain": false, "tickSize": 7, "tickWidth": 1, "title": null, "orient": "left"}}
          }
        },
        {
          "data": {"name": "lowerRef"},
          "transform": [{"filter": "datum.kind == 'mean'"}],
          "mark": {"type": "rule", "stroke": "#2a2aa0", "strokeWidth": 1.5},
          "encoding": {
            "x": {"datum": 0.1, "type": "quantitative", "axis": null},
            "x2": {"datum": 0.3},
            "y": {"field": "v", "type": "quantitative", "axis": null}
          }
        },
        {
          "data": {"name": "lowerFit"},
          "transform": [{"filter": "datum.g == 'dot'"}],
          "mark": {"type": "line", "stroke": "#e02828", "strokeWidth": 1, "strokeDash": [2, 2]},
          "encoding": {
            "x": {"field": "m", "type": "quantitative", "axis": null},
            "y": {"field": "d", "type": "quantitative", "axis": null}
          }
        },
        {
          "data": {"name": "lowerFit"},
          "transform": [{"filter": "datum.g == 'dash'"}],
          "mark": {"type": "line", "stroke": "#d040c8", "strokeWidth": 1.5, "strokeDash": [4, 2]},
          "encoding": {
            "x": {"field": "m", "type": "quantitative", "axis": null},
            "y": {"field": "d", "type": "quantitative", "axis": null}
          }
        },
        {
          "data": {"name": "lowerRef"},
          "mark": {"type": "text", "align": "right", "baseline": "middle", "dy": -11, "fontSize": 15, "color": "#222222"},
          "encoding": {
            "x": {"datum": 0.2993, "type": "quantitative", "axis": null},
            "y": {"field": "v", "type": "quantitative", "axis": null},
            "text": {"field": "top"}
          }
        },
        {
          "data": {"name": "lowerRef"},
          "mark": {"type": "text", "align": "right", "baseline": "middle", "dy": 13, "fontSize": 15, "color": "#222222"},
          "encoding": {
            "x": {"datum": 0.2993, "type": "quantitative", "axis": null},
            "y": {"field": "v", "type": "quantitative", "axis": null},
            "text": {"field": "bot"}
          }
        }
      ],
      "resolve": {"axis": {"x": "independent", "y": "independent"}}
    }
  ]
}
